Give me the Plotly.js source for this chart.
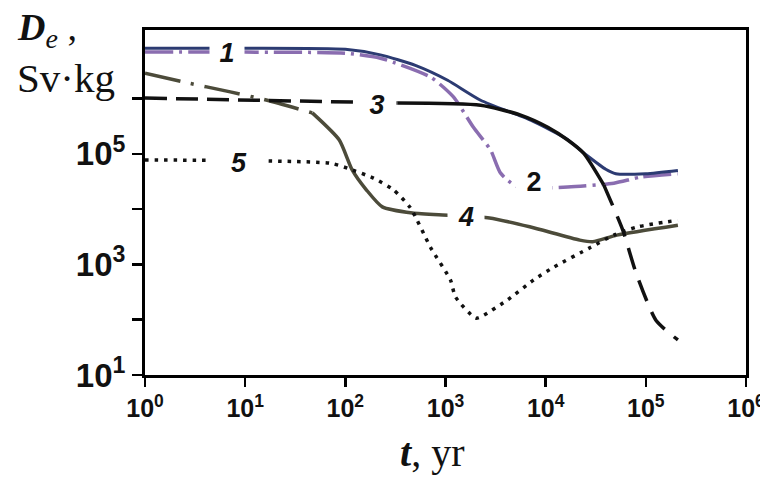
<!DOCTYPE html>
<html>
<head>
<meta charset="utf-8">
<script src="https://cdn.plot.ly/plotly-3.0.1.min.js"></script>
<style>html,body{margin:0;padding:0;background:#fff;}</style>
</head>
<body>
<div id="chart" style="width:760px;height:484px;"></div>
<script>
// ---- data (t in years, De in Sv·kg) ----
const curve1_t = [1, 10, 100, 224, 500, 1050, 2240, 7080, 15800, 26300, 39800, 50100, 100000, 209000];
const curve1_D = [8.13e6, 8.13e6, 7.76e6, 6.17e6, 3.98e6, 2.14e6, 9.33e5, 4.07e5, 1.91e5, 9.12e4, 5.25e4, 4.37e4, 4.37e4, 5.01e4];

const curve2_t = [1, 10, 100, 224, 708, 1200, 1900, 2820, 3550, 5250, 16600, 47900, 89100, 209000];
const curve2_D = [6.92e6, 6.92e6, 6.61e6, 5.37e6, 2.45e6, 1.07e6, 3.02e5, 1.17e5, 4.47e4, 2.51e4, 2.51e4, 2.95e4, 3.80e4, 4.37e4];

const curve3_t = [1, 35, 331, 2240, 5620, 10500, 16600, 24000, 38000, 58900, 79400, 126000, 209000];
const curve3_D = [1.02e6, 8.91e5, 8.32e5, 7.59e5, 5.01e5, 3.02e5, 1.78e5, 1.02e5, 2.75e4, 4170, 724, 98, 43];

const curve4_t = [1, 2.4, 7.1, 16.6, 46.8, 87, 117, 162, 234, 468, 1100, 2750, 6920, 21900, 29500, 51300, 209000];
const curve4_D = [2.88e6, 2.0e6, 1.32e6, 9.33e5, 5.5e5, 1.78e5, 5.13e4, 2.24e4, 1.10e4, 8510, 7760, 6920, 4790, 2750, 2570, 3390, 5130];

const curve5_t = [1, 70.8, 105, 191, 302, 447, 708, 1120, 1260, 2000, 2400, 4170, 7590, 12000, 28200, 47900, 83200, 209000];
const curve5_D = [7.76e4, 6.76e4, 5.50e4, 3.63e4, 2.24e4, 1.05e4, 2040, 525, 257, 107, 120, 229, 525, 891, 2040, 3390, 4790, 6310];

const curveLabels = ['1', '2', '3', '4', '5'];
// label anchor points (t, De) where the curve numbers are written
const label_t = [6.6, 7600, 209, 1620, 8.7];
const label_D = [6.6e6, 3.1e4, 7.6e5, 7.2e3, 6.8e4];

const xTickVals = [1, 10, 100, 1e3, 1e4, 1e5, 1e6];
const xTickText = ['10<sup>0</sup>', '10<sup>1</sup>', '10<sup>2</sup>', '10<sup>3</sup>', '10<sup>4</sup>', '10<sup>5</sup>', '10<sup>6</sup>'];
const yTickVals = [10, 1e3, 1e5];
const yTickText = ['10<sup>1</sup>', '10<sup>3</sup>', '10<sup>5</sup>'];
const yMinorVals = [100, 1e4, 1e6];

// ---- styles ----
const C_BLUE = '#2c3b72';
const C_PURPLE = '#8a6db0';
const C_BLACK = '#111111';
const C_OLIVE = '#4c4b3a';

function seg(t, d, i0, i1) { return {x: t.slice(i0, i1 + 1), y: d.slice(i0, i1 + 1)}; }

const s4a = seg(curve4_t, curve4_D, 0, 4);
const s4b = seg(curve4_t, curve4_D, 4, curve4_t.length - 1);
const s3a = seg(curve3_t, curve3_D, 0, 2);
const s3b = seg(curve3_t, curve3_D, 2, 8);
const s3c = seg(curve3_t, curve3_D, 8, curve3_t.length - 1);

const traces = [
  {x: s4a.x, y: s4a.y, mode: 'lines', line: {color: C_OLIVE, width: 3.5, dash: '36px,11px,3px,11px', shape: 'spline', smoothing: 0.6}},
  {x: s4b.x, y: s4b.y, mode: 'lines', line: {color: C_OLIVE, width: 3.5, shape: 'spline', smoothing: 0.6}},
  {x: curve5_t, y: curve5_D, mode: 'lines', line: {color: C_BLACK, width: 3.5, dash: '3.5px,6px', shape: 'spline', smoothing: 0.6}},
  {x: curve2_t, y: curve2_D, mode: 'lines', line: {color: C_PURPLE, width: 3.5, dash: '28px,6px,3px,6px', shape: 'spline', smoothing: 0.6}},
  {x: curve1_t, y: curve1_D, mode: 'lines', line: {color: C_BLUE, width: 3, shape: 'spline', smoothing: 0.6}},
  {x: s3a.x, y: s3a.y, mode: 'lines', line: {color: C_BLACK, width: 3.5, dash: '22px,9px'}},
  {x: s3b.x, y: s3b.y, mode: 'lines', line: {color: C_BLACK, width: 3.5, shape: 'spline', smoothing: 0.6}},
  {x: s3c.x, y: s3c.y, mode: 'lines', line: {color: C_BLACK, width: 3.5, dash: '22px,12px', shape: 'spline', smoothing: 0.6}}
];
traces.forEach(t => { t.showlegend = false; t.hoverinfo = 'skip'; });

const maskW = [34, 36, 38, 36, 56];
const italic = [true, false, true, true, true];
const annotations = curveLabels.map((lab, i) => ({
  x: Math.log10(label_t[i]), y: Math.log10(label_D[i]), xref: 'x', yref: 'y',
  text: italic[i] ? '<b><i>' + lab + '</i></b>' : '<b>' + lab + '</b>',
  showarrow: false, xanchor: 'center', yanchor: 'middle',
  bgcolor: '#ffffff', width: maskW[i], height: 24, borderpad: 0,
  font: {family: 'Liberation Sans, Arial, sans-serif', size: 27, color: '#111'}
}));

annotations.push(
  {xref: 'paper', yref: 'paper', x: -0.217, y: 1.0, xanchor: 'left', yanchor: 'middle', showarrow: false,
   text: '<b><i>D</i></b><sub><span style="font-size:28px"><i>e</i></span></sub> ,',
   font: {family: 'Liberation Serif, Times New Roman, serif', size: 38, color: '#111'}},
  {xref: 'paper', yref: 'paper', x: -0.217, y: 0.86, xanchor: 'left', yanchor: 'middle', showarrow: false,
   text: 'Sv·kg', font: {family: 'Liberation Serif, Times New Roman, serif', size: 41, color: '#111'}},
  {xref: 'paper', yref: 'paper', x: 0.478, y: -0.225, xanchor: 'center', yanchor: 'middle', showarrow: false,
   text: '<b><i>t</i></b>, yr', font: {family: 'Liberation Serif, Times New Roman, serif', size: 40, color: '#111'}}
);

const layout = {
  width: 760, height: 484,
  margin: {l: 145, r: 14, t: 30, b: 109},
  paper_bgcolor: '#ffffff', plot_bgcolor: '#ffffff',
  showlegend: false,
  xaxis: {
    type: 'log', range: [0, 6], showgrid: false, zeroline: false,
    showline: true, linecolor: '#000', linewidth: 3, mirror: true,
    ticks: 'outside', ticklen: 9, tickwidth: 2.5, tickcolor: '#000',
    tickvals: xTickVals, ticktext: xTickText, ticklabeloverflow: 'allow',
    tickfont: {family: 'Liberation Sans, Arial, sans-serif', size: 25, color: '#111', weight: 'bold'}
  },
  yaxis: {
    type: 'log', range: [1, 7.24], showgrid: false, zeroline: false,
    showline: true, linecolor: '#000', linewidth: 3, mirror: true,
    ticks: 'outside', ticklen: 10, tickwidth: 2.5, tickcolor: '#000',
    tickvals: yTickVals, ticktext: yTickText,
    minor: {tickvals: yMinorVals, ticks: 'outside', ticklen: 10, tickwidth: 2.5, tickcolor: '#000', showgrid: false},
    tickfont: {family: 'Liberation Sans, Arial, sans-serif', size: 33, color: '#111', weight: 'bold'}
  },
  annotations: annotations
};

Plotly.newPlot('chart', traces, layout, {staticPlot: true, displayModeBar: false});
</script>
</body>
</html>
